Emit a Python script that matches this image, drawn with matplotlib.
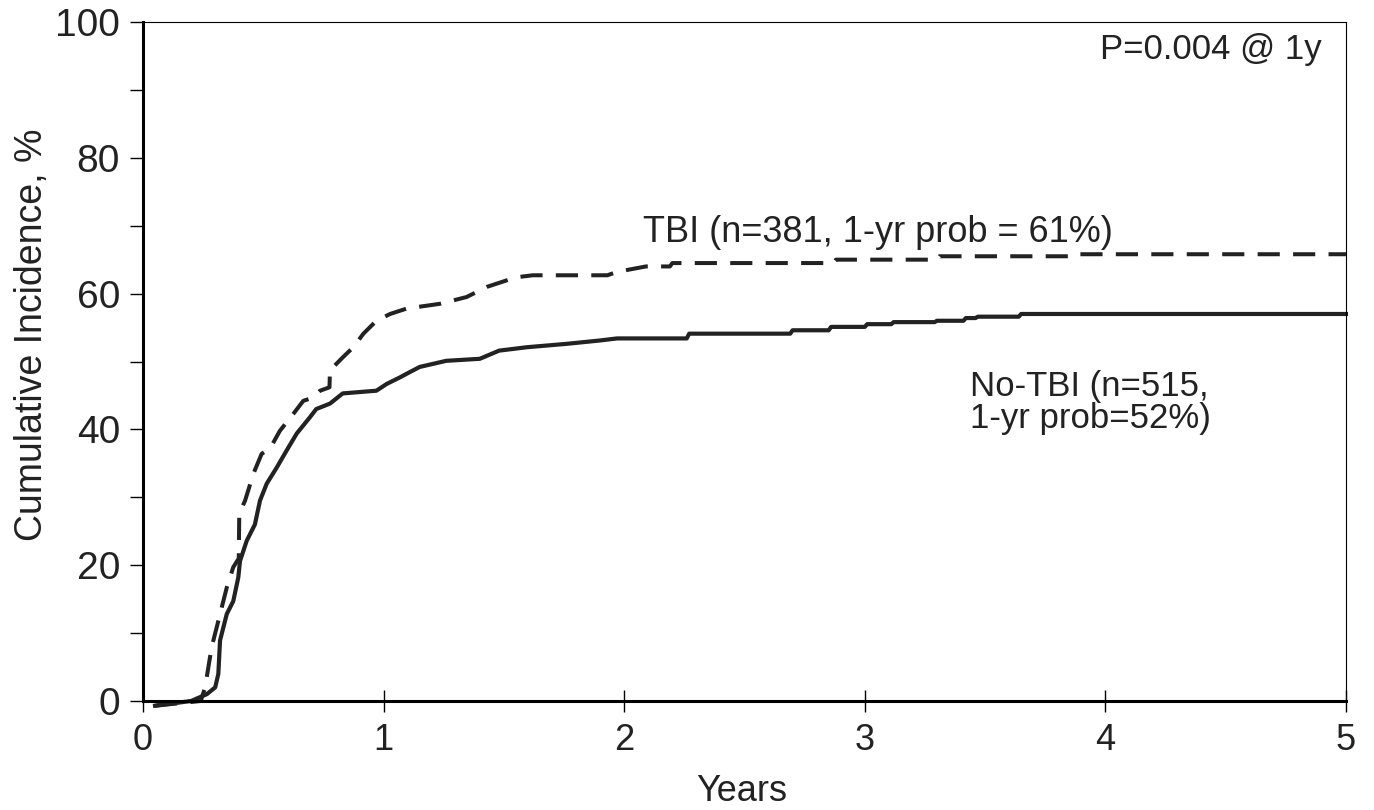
# Cumulative incidence, TBI vs No-TBI
import numpy as np
import matplotlib
matplotlib.use('Agg')
from matplotlib import pyplot as plt
from matplotlib.ticker import MultipleLocator

# curve values (years, %)
notbi_t = [0.05, 0.20, 0.265, 0.30, 0.313, 0.32, 0.348, 0.375, 0.396, 0.403,
           0.431, 0.465, 0.486, 0.514, 0.556, 0.597, 0.639, 0.694, 0.72, 0.777,
           0.83, 0.97, 1.013, 1.07, 1.096, 1.15, 1.26, 1.40, 1.48, 1.595,
           1.76, 1.90, 1.97, 2.26, 2.27, 2.69, 2.70, 2.85, 2.86, 3.00,
           3.01, 3.11, 3.12, 3.29, 3.30, 3.41, 3.42, 3.46, 3.47, 3.64,
           3.65, 5.0]
notbi_v = [-0.7, 0, 1, 2, 4, 8.9, 12.8, 14.7, 18.2, 20.6,
           23.6, 26, 29.5, 32, 34.4, 36.9, 39.4, 41.8, 43, 43.8,
           45.3, 45.7, 46.7, 47.7, 48.2, 49.2, 50.1, 50.4, 51.6, 52.1,
           52.6, 53.1, 53.4, 53.4, 54.1, 54.1, 54.6, 54.6, 55.1, 55.1,
           55.5, 55.5, 55.8, 55.8, 56.0, 56.0, 56.4, 56.4, 56.6, 56.6,
           57.0, 57.0]

tbi_t = [0.05, 0.24, 0.258, 0.285, 0.313, 0.348, 0.375, 0.398, 0.40, 0.424,
         0.459, 0.493, 0.528, 0.569, 0.625, 0.666, 0.708, 0.736, 0.775, 0.777,
         0.83, 0.874, 0.916, 0.97, 1.027, 1.096, 1.234, 1.345, 1.43, 1.55,
         1.62, 1.93, 1.97, 2.09, 2.19, 2.20, 2.87, 2.88, 3.30, 3.31,
         3.88, 3.89, 5.0]
tbi_v = [-0.7, 0, 2, 7.9, 11.8, 16.7, 19.7, 21, 27.6, 29.5,
         33.5, 36.4, 37.2, 39.8, 42.3, 44.2, 44.7, 45.7, 46.2, 48.7,
         50.6, 52.1, 54.1, 56, 57, 57.8, 58.5, 59.5, 61, 62.4,
         62.7, 62.7, 63.2, 64.0, 64.0, 64.5, 64.5, 65.0, 65.0, 65.5,
         65.5, 65.8, 65.8]

x_ticks = [0, 1, 2, 3, 4, 5]
y_ticks = [0, 20, 40, 60, 80, 100]

reg = ['Liberation Sans', 'DejaVu Sans']
ink = '#222222'

fig = plt.figure(figsize=(13.74, 8.10), dpi=100)
ax = fig.add_axes([0.1041, 0.1346, 0.8755, 0.8382])

ax.plot(notbi_t, notbi_v, color=ink, lw=3.0, clip_on=False)
ax.plot(tbi_t, tbi_v, color=ink, lw=2.9, linestyle=(0, (5.5, 3.3)), clip_on=False)

ax.set_xlim(0, 5)
ax.set_ylim(0, 100)

ax.spines['left'].set_linewidth(2.2)
ax.spines['bottom'].set_linewidth(2.2)
ax.spines['top'].set_linewidth(0.8)
ax.spines['right'].set_linewidth(0.8)

ax.set_xticks(x_ticks)
ax.set_yticks(y_ticks)
ax.yaxis.set_minor_locator(MultipleLocator(10))
ax.tick_params(axis='y', which='both', direction='out', length=9.5, width=1.0,
               pad=7, labelsize=28, labelcolor=ink)
ax.tick_params(axis='x', which='major', direction='inout', length=16, width=1.0,
               pad=8, labelsize=26, labelcolor=ink)
for lab in ax.get_yticklabels() + ax.get_xticklabels():
    lab.set_family(reg)

ax.set_xlabel('Years', fontsize=26, family=reg, color=ink)
ax.xaxis.set_label_coords(0.498, -0.108)
ax.set_ylabel('Cumulative Incidence, %', fontsize=27, family=reg, color=ink)
ax.yaxis.set_label_coords(-0.077, 0.54)

ax.text(4.90, 95.9, 'P=0.004 @ 1y', ha='right', va='center', fontsize=25,
        family=reg, color=ink)
ax.text(2.078, 69.0, 'TBI (n=381, 1-yr prob = 61%)', ha='left', va='center',
        fontsize=26, family=reg, color=ink)
ax.text(3.437, 44.0, 'No-TBI (n=515,\n1-yr prob=52%)', ha='left', va='center',
        fontsize=25, family=reg, color=ink, linespacing=0.95)

fig.savefig('out.png', dpi=100)
